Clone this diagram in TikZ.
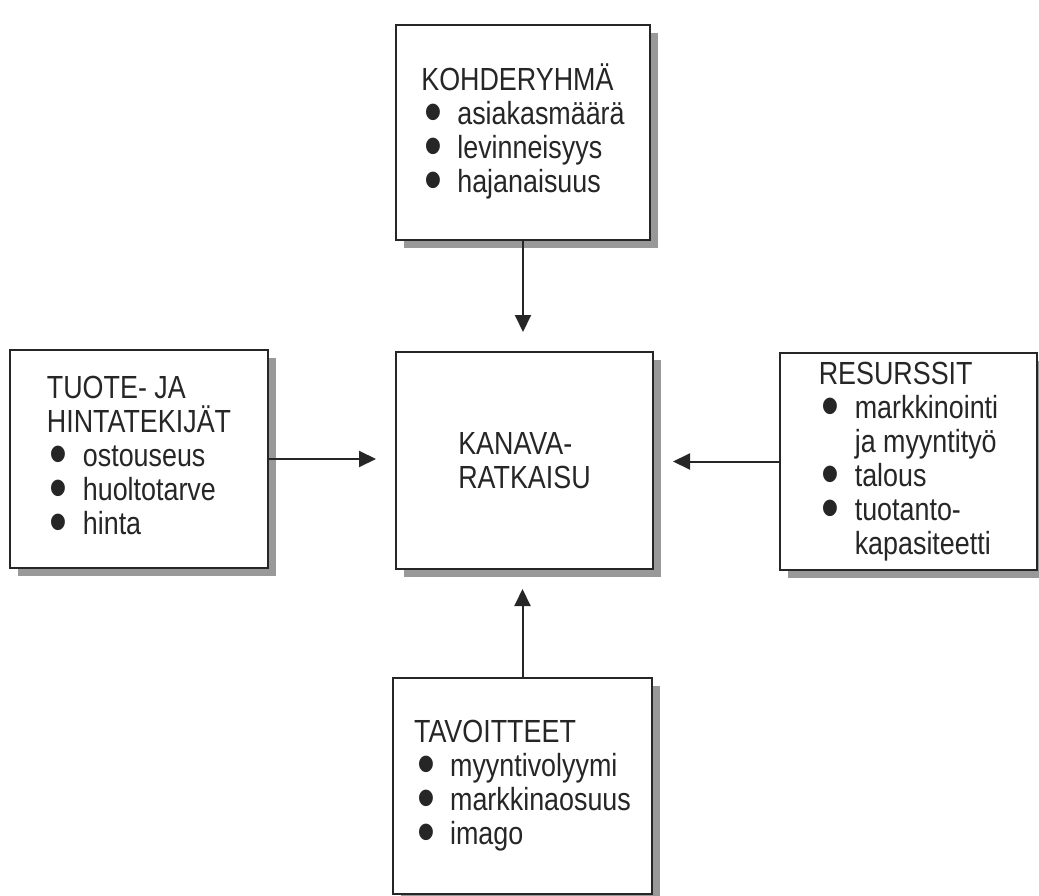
\documentclass[tikz,border=0pt]{standalone}
\usepackage{fontspec}
\setmainfont{Liberation Sans}[FakeStretch=0.84]
\usepackage{graphicx}
\usepackage{tikz}
\usetikzlibrary{shadows}
\usetikzlibrary{arrows.meta}

\newcommand{\itm}[1]{\makebox[36pt][l]{\hspace{3pt}\raisebox{-8pt}{\scalebox{1.9}{•}}}#1}
\newcommand{\cont}[1]{\makebox[36pt]{}#1}

\begin{document}
\begin{tikzpicture}[x=1pt,y=-1pt,
    box/.style={draw=black!85, line width=2pt, fill=white, inner sep=0pt,
      align=left, text=black!85, font=\fontsize{32}{34}\selectfont,
      drop shadow={shadow xshift=8pt, shadow yshift=-8pt, fill=black!40, opacity=1}},
    arr/.style={draw=black!85, line width=2pt, shorten >=19pt,
      -{Triangle[length=17pt,width=16pt]}}]
            \useasboundingbox (0,0) rectangle (1039,896);
            \node [box, minimum width=254pt, minimum height=215pt] (kohde) at (523,132.5)
              {KOHDERYHMÄ\\ \itm{asiakasmäärä}\\ \itm{levinneisyys}\\ \itm{hajanaisuus}};
            \node [box, minimum width=257pt, minimum height=217pt] (kanava) at (524.5,460.5)
              {KANAVA-\\ RATKAISU};
            \node [box, minimum width=258pt, minimum height=218pt] (tuote) at (139,459)
              {TUOTE- JA\\ HINTATEKIJÄT\\ \itm{ostouseus}\\ \itm{huoltotarve}\\ \itm{hinta}};
            \node [box, minimum width=257pt, minimum height=217pt] (resurssit) at (908.5,461.5)
              {RESURSSIT\\ \itm{markkinointi}\\ \cont{ja myyntityö}\\ \itm{talous}\\ \itm{tuotanto-}\\ \cont{kapasiteetti}};
            \node [box, minimum width=259pt, minimum height=216pt] (tavoite) at (522.5,786)
              {TAVOITTEET\\ \itm{myyntivolyymi}\\ \itm{markkinaosuus}\\ \itm{imago}};
            \draw [arr] (kohde.south) -- (kohde.south |- kanava.north);
            \draw [arr] (tuote.east) -- (tuote.east -| kanava.west);
            \draw [arr] (resurssit.west) -- (resurssit.west -| kanava.east);
            \draw [arr] (tavoite.north) -- (tavoite.north |- kanava.south);
          \end{tikzpicture}
\end{document}
